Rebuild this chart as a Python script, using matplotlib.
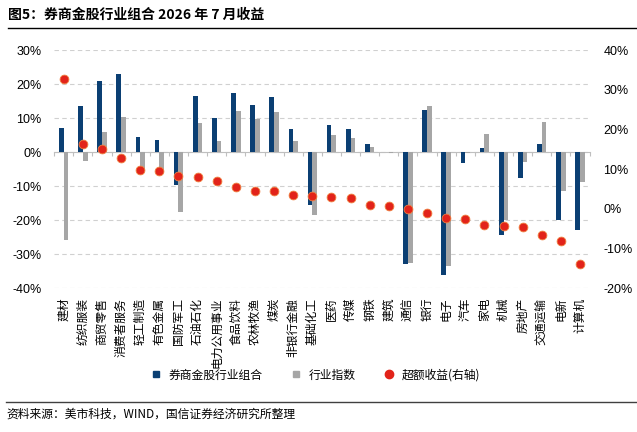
import numpy as np
import matplotlib
matplotlib.use('Agg')
import matplotlib.pyplot as plt
from matplotlib.lines import Line2D
from matplotlib.ticker import FuncFormatter, FixedLocator

plt.rcParams['font.family'] = ['Liberation Sans', 'Noto Sans CJK SC', 'DejaVu Sans']

# data (percent)
industries = ['建材', '纺织服装', '商贸零售', '消费者服务', '轻工制造', '有色金属',
              '国防军工', '石油石化', '电力公用事业', '食品饮料', '农林牧渔', '煤炭',
              '非银行金融', '基础化工', '医药', '传媒', '钢铁', '建筑', '通信', '银行',
              '电子', '汽车', '家电', '机械', '房地产', '交通运输', '电新', '计算机']
portfolio = [7.0, 13.7, 20.9, 23.0, 4.4, 3.5, -9.6, 16.6, 10.1, 17.4, 13.9, 16.1,
             6.7, -15.6, 8.1, 6.9, 2.5, 0.0, -32.8, 12.3, -36.2, -3.1, 1.1, -24.5,
             -7.7, 2.3, -19.9, -23.0]
index_ret = [-25.8, -2.5, 6.0, 10.4, -5.5, -6.1, -17.7, 8.7, 3.2, 12.2, 9.6, 11.8,
             3.4, -18.6, 5.0, 4.3, 1.6, -0.4, -32.6, 13.6, -33.6, -0.4, 5.2, -19.9,
             -2.9, 8.9, -11.5, -8.8]
excess = [32.8, 16.3, 15.0, 12.7, 9.9, 9.6, 8.2, 8.1, 7.1, 5.4, 4.4, 4.4, 3.4, 3.2,
          3.1, 2.7, 1.0, 0.7, 0.0, -1.1, -2.3, -2.5, -4.1, -4.4, -4.5, -6.6, -8.2, -13.9]

navy = '#0b3f73'
grey = '#a6a6a6'
red = '#e2231a'
cjk = ['Noto Sans CJK SC', 'DejaVu Sans']

fig = plt.figure(figsize=(6.37, 4.32), dpi=100)
ax = fig.add_axes([0.085, 0.333, 0.8406, 0.551])

x = np.arange(len(industries))
w = 0.245
ax.bar(x - w / 2, portfolio, width=w, color=navy, zorder=3)
ax.bar(x + w / 2, index_ret, width=w, color=grey, zorder=3)

ax.set_xlim(-0.5, len(industries) - 0.5)
ax.set_ylim(-40, 30)
ax.set_yticks(np.arange(-40, 31, 10))
ax.yaxis.set_major_formatter(FuncFormatter(lambda v, p: f'{v:.0f}%'))
ax.grid(axis='y', color='#d0d0d0', linestyle=(0, (4, 3)), linewidth=0.8, zorder=0)
for s in ['top', 'right', 'left']:
    ax.spines[s].set_visible(False)
# zero line with ticks at category boundaries
ax.spines['bottom'].set_position(('data', 0))
ax.spines['bottom'].set_color('#bfbfbf')
ax.spines['bottom'].set_zorder(2)
ax.xaxis.set_major_locator(FixedLocator(np.arange(-0.5, len(industries), 1.0)))
ax.tick_params(axis='x', which='major', length=3, color='#bfbfbf', labelbottom=False)
ax.tick_params(axis='y', length=0, labelsize=9, pad=9)

# category labels along the bottom
sec = ax.secondary_xaxis(0)
sec.set_xticks(x)
sec.set_xticklabels(industries, rotation=90, family=cjk, fontsize=8.5, va='top')
sec.tick_params(length=0, pad=7)
sec.spines['bottom'].set_visible(False)

ax2 = ax.twinx()
ax2.scatter(x, excess, s=40, color=red, edgecolors='#f08040', linewidths=0.6, zorder=5)
ax2.set_ylim(-20, 40)
ax2.set_yticks(np.arange(-20, 41, 10))
ax2.yaxis.set_major_formatter(FuncFormatter(lambda v, p: f'{v:.0f}%'))
ax2.tick_params(axis='y', length=0, labelsize=9, pad=10)
for s in ax2.spines.values():
    s.set_visible(False)

handles = [
    Line2D([], [], marker='s', linestyle='none', color=navy, markersize=5),
    Line2D([], [], marker='s', linestyle='none', color=grey, markersize=5),
    Line2D([], [], marker='o', linestyle='none', color=red, markersize=6),
]
fig.legend(handles, ['券商金股行业组合', '行业指数', '超额收益(右轴)'],
           loc='center', bbox_to_anchor=(0.49, 0.132), ncol=3, frameon=False,
           prop={'family': cjk, 'size': 8.5}, handletextpad=0.1, columnspacing=1.8)

# title, rules and source
fig.text(0.013, 0.965, '图5：券商金股行业组合 2026 年 7 月收益', family=cjk,
         fontsize=10, fontweight='bold', va='center', ha='left')
fig.add_artist(Line2D([0.012, 1.0], [0.936, 0.936], color='black', linewidth=1.0))
fig.add_artist(Line2D([0.01, 1.0], [0.07, 0.07], color='#404040', linewidth=1.0))
fig.text(0.01, 0.041, '资料来源：美市科技，WIND，国信证券经济研究所整理', family=cjk,
         fontsize=8.5, va='center', ha='left')

fig.savefig('out.png', dpi=100)
